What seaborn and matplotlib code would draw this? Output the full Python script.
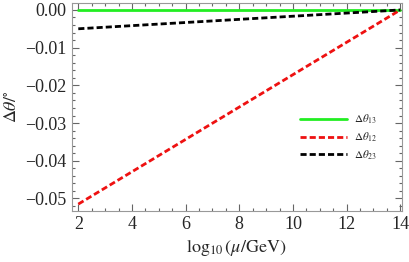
import numpy as np
import pandas as pd
import matplotlib
matplotlib.use("Agg")
import matplotlib.pyplot as plt
import seaborn as sns
from matplotlib.ticker import MultipleLocator, FuncFormatter

# Data (straight lines, endpoints)
log_mu = [2, 14]
dtheta13 = [0.0, 0.0]
dtheta12 = [-0.0515, 0.0]
dtheta23 = [-0.0050, 0.0]

labels = [r"$\Delta\theta_{13}$", r"$\Delta\theta_{12}$", r"$\Delta\theta_{23}$"]
df = pd.DataFrame({
    "x": log_mu * 3,
    "y": dtheta13 + dtheta12 + dtheta23,
    "series": [labels[0]] * 2 + [labels[1]] * 2 + [labels[2]] * 2,
})

sns.set_style("ticks")
plt.rcParams["font.family"] = ["Liberation Serif", "DejaVu Serif"]
plt.rcParams["mathtext.fontset"] = "stix"

fig, ax = plt.subplots(figsize=(4.09, 2.62), dpi=100)
palette = {labels[0]: "#22ee22", labels[1]: "#ee1111", labels[2]: "black"}
dashes = {labels[0]: "", labels[1]: (2.2, 1.1), labels[2]: (2.2, 1.1)}
sns.lineplot(data=df, x="x", y="y", hue="series", style="series", palette=palette,
             dashes=dashes, linewidth=2, ax=ax)


def fmt(v, p):
    if abs(v) < 1e-9:
        return "0.00"
    return f"{v:.2f}".replace("-", "\u2212")


ax.set_xlim(1.75, 14.05)
ax.set_ylim(-0.0533, 0.0018)
ax.xaxis.set_major_locator(MultipleLocator(2))
ax.xaxis.set_minor_locator(MultipleLocator(0.5))
ax.yaxis.set_major_locator(MultipleLocator(0.01))
ax.yaxis.set_minor_locator(MultipleLocator(0.002))
ax.yaxis.set_major_formatter(FuncFormatter(fmt))
ax.tick_params(which="both", direction="in", top=True, right=True, color="#666666",
               width=0.8, labelsize=13)
ax.tick_params(which="major", length=5)
ax.tick_params(which="minor", length=2.5)
for s in ax.spines.values():
    s.set_color("#999999")
    s.set_linewidth(0.8)

ax.set_xlabel(r"$\log_{10}(\mu/\mathrm{GeV})$", fontsize=13)
ax.set_ylabel(r"$\Delta\theta/^{\circ}$", fontsize=13)

leg = ax.legend(loc="center right", bbox_to_anchor=(0.955, 0.355), frameon=False, fontsize=8,
                handlelength=4.2, labelspacing=0.4, handletextpad=0.6)

fig.subplots_adjust(left=0.175, right=0.982, top=0.988, bottom=0.195)
fig.savefig("out.png", dpi=100)
